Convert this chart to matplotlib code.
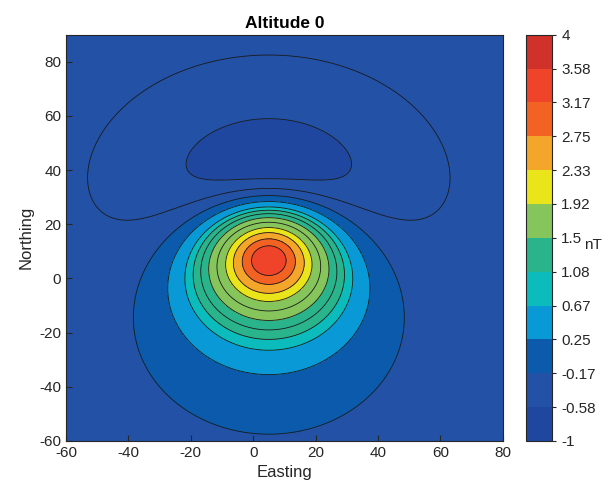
import numpy as np
import matplotlib.pyplot as plt
from matplotlib.colors import ListedColormap, BoundaryNorm
from matplotlib.cm import ScalarMappable

plt.rcParams['font.family'] = ['Liberation Sans', 'DejaVu Sans']
plt.rcParams['axes.unicode_minus'] = False

# colorbar: 12 bands from -1 to 4 nT
cbar_ticks = [-1, -0.58, -0.17, 0.25, 0.67, 1.08, 1.5, 1.92, 2.33, 2.75, 3.17, 3.58, 4]
band_colors = ['#2047a0', '#2251a6', '#0b5aab', '#0899d6', '#0cbcbd', '#29b48c',
               '#85c55b', '#eae41a', '#f4a62a', '#f26223', '#ef432a', '#d0312a']

# source parameters (dipole below the anomaly)
src_x = 5.0
src_y = 13.8
src_depth = 31.0
inclination = 65.0
peak_value = 3.4

# where the contour lines cross the profile Easting = 5 (Northing values)
north_cross = [59.0, 82.5]           # inner / outer negative loop
south_cross = [-57.5, -35.5, -26.5, -22.5, -19.0, -15.5, -12.0, -8.5, -5.5, -2.2, 1.1]
# fill band (index into band_colors) of each region, lowest first
region_band = [0, 1, 1, 2, 3, 4, 5, 5, 6, 6, 7, 8, 9, 10]


def field(x, y):
    inc = np.radians(inclination)
    dx = x - src_x
    dy = y - src_y
    r2 = dx ** 2 + dy ** 2 + src_depth ** 2
    fr = dy * np.cos(inc) - src_depth * np.sin(inc)
    return (3 * fr ** 2 - r2) / r2 ** 2.5


xg = np.linspace(-60, 80, 281)
yg = np.linspace(-60, 90, 301)
X, Y = np.meshgrid(xg, yg)
Z = field(X, Y)
scale = peak_value / Z.max()
Z = Z * scale

lev_n = [field(src_x, v) * scale for v in north_cross]
lev_s = [field(src_x, v) * scale for v in south_cross]
levels = [-1.0] + lev_n + lev_s + [4.0]
fill_colors = [band_colors[i] for i in region_band]

fig = plt.figure(figsize=(6.11, 4.96), dpi=100)
ax = fig.add_axes([0.108, 0.111, 0.715, 0.819])
ax.contourf(X, Y, Z, levels=levels, colors=fill_colors)
ax.contour(X, Y, Z, levels=levels[1:-1], colors='#1a1a1a', linewidths=0.6,
           linestyles='solid')

ax.set_xlim(-60, 80)
ax.set_ylim(-60, 90)
ax.set_xticks(np.arange(-60, 81, 20))
ax.set_yticks(np.arange(-60, 81, 20))
ax.tick_params(direction='in', length=4, labelsize=11, colors='#262626')
for sp in ax.spines.values():
    sp.set_color('#262626')
ax.set_title('Altitude 0', fontsize=12.5, fontweight='bold', pad=5)
ax.set_xlabel('Easting', fontsize=12, color='#262626')
ax.set_ylabel('Northing', fontsize=12, color='#262626')

cax = fig.add_axes([0.861, 0.111, 0.0426, 0.819])
cmap = ListedColormap(band_colors)
norm = BoundaryNorm(np.linspace(-1, 4, 13), cmap.N)
cb = fig.colorbar(ScalarMappable(norm=norm, cmap=cmap), cax=cax, ticks=np.linspace(-1, 4, 13))
cb.ax.set_yticklabels([f'{t:g}' for t in cbar_ticks])
cb.ax.tick_params(labelsize=11, length=3, colors='#262626')
cb.outline.set_edgecolor('#262626')
fig.text(0.97, 0.506, 'nT', fontsize=11, color='#262626', ha='center', va='center')

plt.savefig('out.png', dpi=100)
